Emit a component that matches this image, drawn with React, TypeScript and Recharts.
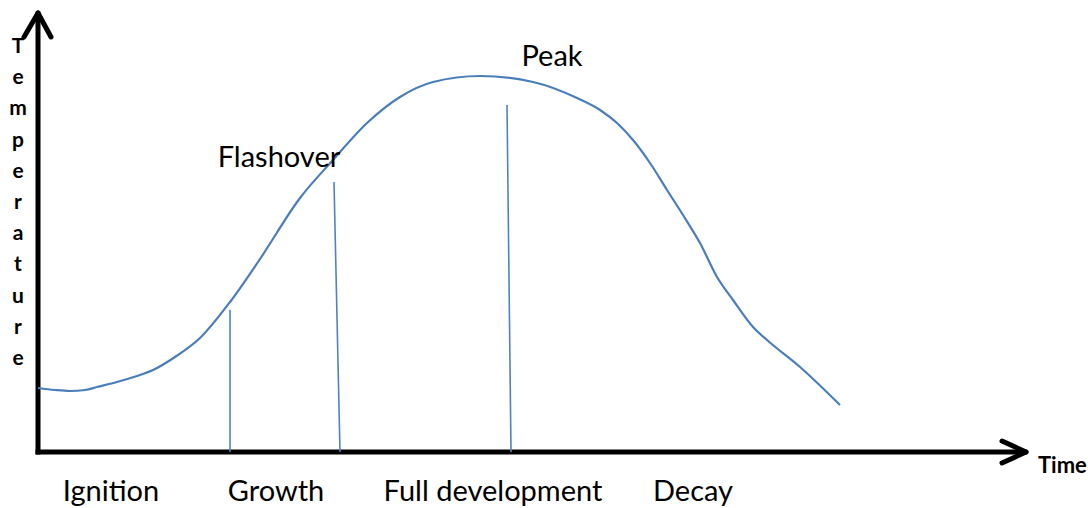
import React from 'react';
import { LineChart, Line, XAxis, YAxis, ReferenceLine, ReferenceDot } from 'recharts';

// Fire development curve: time (x) vs temperature (y), arbitrary units
const time = [0, 17, 32, 47, 59, 79, 99, 115, 137, 162, 192, 222, 262, 295, 329, 362, 395, 442, 495, 539, 562, 579, 595, 612, 629, 645, 662, 679, 695, 715, 729, 762, 802];
const temperature = [64, 62, 61, 62, 65, 70, 76, 82, 95, 114, 150, 193, 254, 292, 329, 355, 370, 376, 370, 354, 342, 329, 312, 289, 262, 237, 209, 175, 152, 125, 112, 85, 47];

// Phase boundary markers (time, temperature) start / end
const boundaryStartT = [192, 296, 469];
const boundaryStartY = [142, 270, 347];
const boundaryEndT = [192, 302, 473];

const phaseLabels = ['Ignition', 'Growth', 'Full development', 'Decay'];
const phaseLabelT = [73, 238, 455, 655];

const eventLabels = ['Flashover', 'Peak'];
const eventLabelT = [241, 514];
const eventLabelY = [285, 386];

const yAxisTitle = 'Temperature'.split('');
const xAxisTitle = 'Time';

const X_MAX = 989;
const Y_MAX = 440;

const data = time.map((t, i) => ({ t, temp: temperature[i] }));

const FONT = 'Lato, "Open Sans", sans-serif';
const LINE_BLUE = '#4A7EBB';
const MARK_BLUE = '#4F81C4';

const makeText = (text: string, opts: { size: number; bold?: boolean; anchor?: string }) =>
  (props: any) => {
    const vb = props.viewBox || {};
    const x = (vb.x ?? 0) + (vb.width ?? 0) / 2;
    const y = (vb.y ?? 0) + (vb.height ?? 0) / 2;
    return (
      <text
        x={x}
        y={y}
        textAnchor={opts.anchor || 'middle'}
        fontFamily={FONT}
        fontSize={opts.size}
        fontWeight={opts.bold ? 700 : 400}
        fill="#000"
      >
        {text}
      </text>
    );
  };

const axisStyle = { stroke: '#000', strokeWidth: 5, ifOverflow: 'visible' as const };

export default function App() {
  return (
    <div style={{ position: 'absolute', left: 0, top: 0, width: 1088, height: 508, background: '#fff' }}>
      <LineChart
        width={1088}
        height={508}
        data={data}
        margin={{ top: 12, left: 38, right: 1088 - 38 - X_MAX, bottom: 508 - 12 - Y_MAX }}
      >
        <XAxis dataKey="t" type="number" domain={[0, X_MAX]} hide />
        <YAxis type="number" domain={[0, Y_MAX]} hide />
        {/* axes */}
        <ReferenceLine segment={[{ x: 0, y: -2.5 }, { x: 0, y: 439 }]} {...axisStyle} />
        <ReferenceLine segment={[{ x: -2.5, y: 0 }, { x: 988, y: 0 }]} {...axisStyle} />
        {/* arrow heads */}
        <ReferenceLine segment={[{ x: -14, y: 415 }, { x: 0, y: 439 }]} {...axisStyle} strokeLinecap="round" />
        <ReferenceLine segment={[{ x: 13, y: 415 }, { x: 0, y: 439 }]} {...axisStyle} strokeLinecap="round" />
        <ReferenceLine segment={[{ x: 964, y: 11 }, { x: 988, y: 0 }]} {...axisStyle} strokeLinecap="round" />
        <ReferenceLine segment={[{ x: 964, y: -11 }, { x: 988, y: 0 }]} {...axisStyle} strokeLinecap="round" />
        {/* phase boundaries */}
        {boundaryStartT.map((t, i) => (
          <ReferenceLine
            key={'b' + i}
            segment={[{ x: t, y: boundaryStartY[i] }, { x: boundaryEndT[i], y: 0 }]}
            stroke={MARK_BLUE}
            strokeWidth={1.6}
            ifOverflow="visible"
          />
        ))}
        <Line
          type="monotone"
          dataKey="temp"
          stroke={LINE_BLUE}
          strokeWidth={2.2}
          dot={false}
          isAnimationActive={false}
        />
        {phaseLabels.map((s, i) => (
          <ReferenceDot key={'p' + i} x={phaseLabelT[i]} y={-49} r={0} ifOverflow="visible" label={{ content: makeText(s, { size: 29 }) }} />
        ))}
        {eventLabels.map((s, i) => (
          <ReferenceDot key={'e' + i} x={eventLabelT[i]} y={eventLabelY[i]} r={0} ifOverflow="visible" label={{ content: makeText(s, { size: 29 }) }} />
        ))}
        {yAxisTitle.map((ch, i) => (
          <ReferenceDot key={'y' + i} x={-20} y={399 - i * 31.2} r={0} ifOverflow="visible" label={{ content: makeText(ch, { size: 21, bold: true }) }} />
        ))}
        <ReferenceDot x={1000} y={-21} r={0} ifOverflow="visible" label={{ content: makeText(xAxisTitle, { size: 22, bold: true, anchor: 'start' }) }} />
      </LineChart>
    </div>
  );
}
